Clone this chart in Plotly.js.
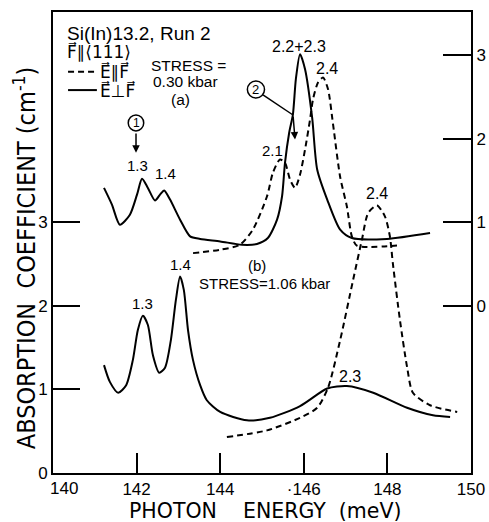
<!DOCTYPE html>
<html>
<head>
<meta charset="utf-8">
<script src="https://cdn.plot.ly/plotly-3.0.1.min.js"></script>
<style>
  html, body { margin: 0; padding: 0; background: #fff; }
  #chart { width: 489px; height: 522px; }
</style>
</head>
<body>
<div id="chart"></div>
<script>
// Curve (a): stress 0.30 kbar, read on the right-hand scale
const energyA_perp = [141.22, 141.41, 141.60, 141.84, 142.01, 142.13, 142.27, 142.44, 142.56, 142.66, 142.80, 143.04, 143.28, 143.52, 144.00, 144.52, 144.88, 145.14, 145.36, 145.48, 145.55, 145.65, 145.74, 145.81, 145.91, 146.03, 146.20, 146.32, 146.56, 146.87, 147.15, 147.99, 149.02];
const alphaA_perp  = [1.41, 1.21, 0.97, 1.09, 1.33, 1.52, 1.41, 1.26, 1.33, 1.38, 1.27, 1.03, 0.83, 0.80, 0.77, 0.73, 0.74, 0.81, 1.03, 1.31, 1.71, 2.07, 2.29, 2.71, 3.01, 2.83, 2.25, 1.63, 1.27, 0.91, 0.81, 0.80, 0.87];

const energyA_par = [143.35, 143.99, 144.47, 144.78, 145.12, 145.26, 145.43, 145.55, 145.67, 145.79, 145.91, 146.03, 146.15, 146.22, 146.34, 146.46, 146.58, 146.70, 146.87, 147.03, 147.15, 147.27, 148.23];
const alphaA_par  = [0.63, 0.67, 0.73, 0.91, 1.31, 1.59, 1.75, 1.71, 1.51, 1.41, 1.57, 1.87, 2.23, 2.47, 2.67, 2.73, 2.59, 2.17, 1.54, 1.19, 0.83, 0.72, 0.72];

// Curve (b): stress 1.06 kbar, read on the left-hand scale
const energyB_perp = [141.22, 141.36, 141.56, 141.75, 141.91, 142.03, 142.15, 142.27, 142.39, 142.54, 142.68, 142.82, 142.94, 143.04, 143.13, 143.23, 143.35, 143.52, 143.68, 144.00, 144.64, 145.19, 145.91, 146.56, 147.03, 147.66, 148.47, 149.09, 149.50];
const alphaB_perp  = [1.29, 1.09, 0.96, 1.05, 1.35, 1.71, 1.88, 1.77, 1.41, 1.20, 1.26, 1.59, 2.07, 2.35, 2.19, 1.71, 1.35, 1.05, 0.87, 0.73, 0.63, 0.66, 0.80, 1.01, 1.04, 0.96, 0.78, 0.69, 0.67];

const energyB_par = [144.16, 145.12, 145.91, 146.32, 146.58, 146.87, 147.18, 147.39, 147.54, 147.75, 147.94, 148.06, 148.13, 148.30, 148.47, 148.61, 149.02, 149.67];
const alphaB_par  = [0.43, 0.51, 0.66, 0.78, 1.02, 1.59, 2.31, 2.79, 3.11, 3.20, 3.07, 2.83, 2.51, 1.83, 1.27, 0.96, 0.81, 0.73];

// x tick labels; the first one is set a little right of its tick, clear of the corner "0"
const xTickVals = [140, 142, 144, 146, 148, 150];
const xTickText = ['', '142', '144', '·146', '148', '150'];
const xFirstTick = '140';
const yLeftTicks = [0, 1, 2, 3];
const yRightTicks = [0, 1, 2, 3];

const xTitle = 'PHOTON\u00a0\u00a0\u00a0\u00a0ENERGY\u00a0\u00a0(meV)';
const yTitle = 'ABSORPTION\u00a0\u00a0COEFFICIENT\u00a0(cm<sup>-1</sup>)';

const FONT = 'Liberation Sans, Arial, sans-serif';
const NARROW = 'Liberation Sans Narrow, DejaVu Sans Condensed, sans-serif';
const SYM = 'DejaVu Sans, sans-serif';
const INK = '#000';
const dashStyle = '6px,4px';

function curve(x, y, dashed, axis) {
  return {
    x: x, y: y, type: 'scatter', mode: 'lines', yaxis: axis,
    showlegend: false, hoverinfo: 'skip',
    line: { color: INK, width: 2, dash: dashed ? dashStyle : 'solid', shape: 'spline', smoothing: 0.7 }
  };
}

const traces = [
  curve(energyA_perp, alphaA_perp, false, 'y2'),
  curve(energyA_par, alphaA_par, true, 'y2'),
  curve(energyB_perp, alphaB_perp, false, 'y'),
  curve(energyB_par, alphaB_par, true, 'y')
];

function label(text, x, y, size, anchor, family) {
  return { text: text, x: x, y: y, xref: 'x', yref: 'y', showarrow: false,
           xanchor: anchor || 'center', yanchor: 'middle',
           font: { family: family || FONT, size: size || 15, color: INK } };
}

function arrow(x0, y0, x1, y1) {
  return { text: '', x: x1, y: y1, xref: 'x', yref: 'y', axref: 'x', ayref: 'y', ax: x0, ay: y0,
           showarrow: true, arrowhead: 2, arrowsize: 1, arrowwidth: 1.5, arrowcolor: INK,
           standoff: 0, startstandoff: 0 };
}

const annotations = [
  label('Si(In)13.2, Run 2', 140.28, 5.26, 19, 'left'),
  label('F\u20D7\u2225\u27E8111\u27E9', 140.28, 5.04, 17, 'left', SYM),
  label('E\u20D7\u2225F\u20D7', 141.07, 4.80, 17, 'left', SYM),
  label('E\u20D7\u22A5F\u20D7', 141.07, 4.58, 17, 'left', SYM),
  label('STRESS =', 143.25, 4.88, 15.5),
  label('0.30 kbar', 143.18, 4.68, 15.5),
  label('(a)', 143.06, 4.47, 15.5),
  label('1.3', 142.01, 3.68, 15),
  label('1.4', 142.70, 3.58, 15),
  label('2.2+2.3', 145.89, 5.10, 16),
  label('2.4', 146.56, 4.84, 16),
  label('2.1', 145.24, 3.86, 15),
  label('2.4', 147.75, 3.34, 16),
  label('(b)', 144.88, 2.48, 15),
  label('STRESS=1.06 kbar', 145.07, 2.27, 15),
  label('1.3', 142.15, 2.03, 15),
  label('1.4', 143.04, 2.49, 15),
  label('2.3', 147.11, 1.15, 16),
  label('1', 141.986, 4.187, 12),
  label('2', 144.856, 4.587, 13),
  arrow(141.986, 4.08, 141.986, 3.83),
  arrow(145.742, 4.282, 145.79, 3.99),
  { text: xFirstTick, x: 140.27, y: 0, xref: 'x', yref: 'paper', yshift: -15, showarrow: false,
    xanchor: 'center', yanchor: 'middle', font: { family: FONT, size: 17, color: INK } },
  // axis titles
  { text: xTitle, x: 0.5, y: 0, xref: 'paper', yref: 'paper',
    xshift: 3, yshift: -38, showarrow: false, xanchor: 'center', yanchor: 'middle',
    font: { family: SYM, size: 20.5, color: INK } },
  { text: yTitle, x: -0.067, y: 0.468, xref: 'paper', yref: 'paper', textangle: -90,
    showarrow: false, xanchor: 'center', yanchor: 'middle',
    font: { family: NARROW, size: 25, color: INK } }
];

const shapes = [
  // legend line samples
  { type: 'line', xref: 'x', yref: 'y', x0: 140.36, x1: 141.05, y0: 4.80, y1: 4.80,
    line: { color: INK, width: 2, dash: dashStyle } },
  { type: 'line', xref: 'x', yref: 'y', x0: 140.36, x1: 141.05, y0: 4.58, y1: 4.58,
    line: { color: INK, width: 2 } },
  // circled markers 1 and 2
  { type: 'circle', xref: 'x', yref: 'y', x0: 141.80, x1: 142.17, y0: 4.092, y1: 4.282,
    line: { color: INK, width: 1.5 } },
  { type: 'circle', xref: 'x', yref: 'y', x0: 144.65, x1: 145.06, y0: 4.485, y1: 4.689,
    line: { color: INK, width: 1.5 } },
  // upper leg of the arrow from circled 2
  { type: 'line', xref: 'x', yref: 'y', x0: 145.024, y0: 4.522, x1: 145.742, y1: 4.282,
    line: { color: INK, width: 1.5 } }
];

const layout = {
  width: 489, height: 522,
  margin: { l: 53, r: 18, t: 12, b: 49 },
  paper_bgcolor: '#fff', plot_bgcolor: '#fff',
  font: { family: FONT, color: INK },
  showlegend: false,
  xaxis: {
    range: [140, 150], tickvals: xTickVals, ticktext: xTickText,
    ticks: 'inside', ticklen: 20, tickwidth: 2, tickcolor: INK,
    showline: true, linewidth: 2, linecolor: INK, mirror: true,
    showgrid: false, zeroline: false,
    tickfont: { family: FONT, size: 17 }
  },
  yaxis: {
    range: [0, 5.514], tickvals: yLeftTicks,
    ticks: 'inside', ticklen: 27, tickwidth: 2, tickcolor: INK,
    showline: true, linewidth: 2, linecolor: INK,
    showgrid: false, zeroline: false,
    tickfont: { family: FONT, size: 17 }
  },
  yaxis2: {
    range: [-2, 3.514], tickvals: yRightTicks, overlaying: 'y', side: 'right',
    ticks: 'inside', ticklen: 28, tickwidth: 2, tickcolor: INK,
    showline: true, linewidth: 2, linecolor: INK,
    showgrid: false, zeroline: false,
    tickfont: { family: FONT, size: 17 }
  },
  annotations: annotations,
  shapes: shapes
};

Plotly.newPlot('chart', traces, layout, { displayModeBar: false, staticPlot: true });
</script>
</body>
</html>
